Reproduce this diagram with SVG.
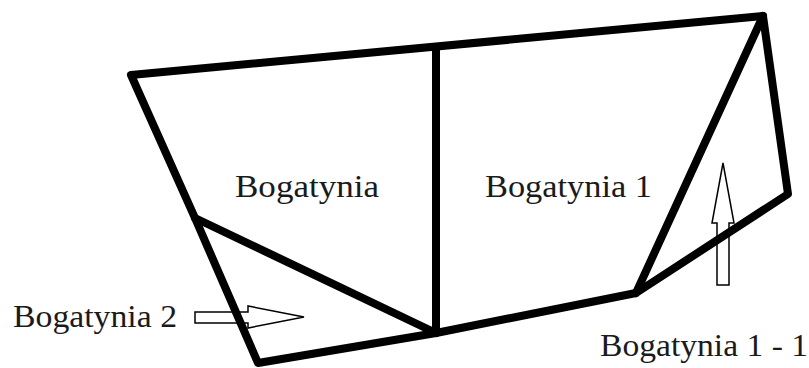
<svg xmlns="http://www.w3.org/2000/svg" width="809" height="368" viewBox="0 0 809 368">
<style>
.edge{fill:none;stroke:#000;stroke-width:8;stroke-linejoin:round;stroke-linecap:round}
.arrow{fill:#fff;stroke:#000;stroke-width:1.5}
text{font-family:"Liberation Serif","Times New Roman",serif;font-size:32px;fill:#1a1a1a}
</style>
<rect width="809" height="368" fill="#fff"/>
<g id="arrows">
<polygon class="arrow" points="195,312 248,312 248,306 304,317 248,328 248,323 195,323"/>
<polygon class="arrow" points="717,285 717,223 712,223 723,163 734,223 729,223 729,285"/>
</g>
<g id="connectors">
<polygon class="edge" points="131,75 763,16 788,194 636,293 436,333 258,363 195,218"/>
<line class="edge" x1="436" y1="47" x2="436" y2="333"/>
<line class="edge" x1="195" y1="218" x2="436" y2="333"/>
<line class="edge" x1="763" y1="16" x2="636" y2="293"/>
</g>
<g id="bogatynia"><text x="235" y="197" textLength="144" lengthAdjust="spacingAndGlyphs">Bogatynia</text></g>
<g id="bogatynia1"><text x="485" y="197" textLength="167" lengthAdjust="spacingAndGlyphs">Bogatynia 1</text></g>
<g id="bogatynia2"><text x="13" y="327" textLength="164" lengthAdjust="spacingAndGlyphs">Bogatynia 2</text></g>
<g id="bogatynia11"><text x="600" y="356" textLength="208" lengthAdjust="spacingAndGlyphs">Bogatynia 1 - 1</text></g>
</svg>
